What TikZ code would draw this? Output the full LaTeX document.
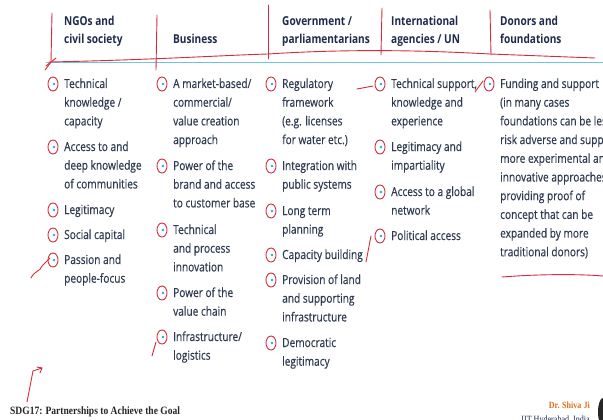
\documentclass[tikz,border=0pt]{standalone}
\usepackage{fontspec}
\setmainfont{Open Sans}[FakeStretch=0.82]
\newfontfamily\bodyfont{Open Sans}[FakeStretch=0.81,FakeBold=0.35]
\newfontfamily\sdgfont{Liberation Serif}[FakeStretch=0.85]
\usepackage{tikz}
\definecolor{navy}{HTML}{1F2B4C}
\definecolor{slate}{HTML}{2F3B50}
\definecolor{inkred}{HTML}{D62B3C}
\definecolor{rule}{HTML}{6EC3E0}
\definecolor{bulblue}{HTML}{2FA6D0}
\definecolor{orng}{HTML}{E2701E}
\tikzset{
  hdr/.style={anchor=base west, inner sep=0pt, text=navy,
    font=\fontsize{12.3}{18}\selectfont\bfseries},
  body/.style={anchor=base west, inner sep=0pt, text=slate,
    font=\bodyfont\fontsize{12.5}{18.7}\selectfont},
  pen/.style={inkred, line width=0.9pt, line cap=round, line join=round},
  bul/.style={bulblue}
}
\def\lines#1{\begin{tabular}[t]{@{}l@{}}#1\end{tabular}}
\def\entry(#1,#2)#3#4{%
  \fill[bul] (#1-10,#2-4) circle (1.3);
  \draw[pen] (#1-11,#2-4) ellipse (5 and 7);
  \node[body] (#3) at (#1,#2) {\lines{#4}};}

\begin{document}
\begin{tikzpicture}[x=1pt, y=-1pt]
			%%%%% START %%%%%
			\useasboundingbox[fill=white] (0,0) rectangle (603,420);
			\clip (0,0) rectangle (603,420);
			
			% headings
			\node[hdr] (ngo) at (64, 26) {\lines{NGOs and\\civil society}};
			\node[hdr] (biz) at (173, 44) {Business};
			\node[hdr] (gov) at (282, 26) {\lines{Government /\\parliamentarians}};
			\node[hdr] (intl) at (391, 26) {\lines{International\\agencies / UN}};
			\node[hdr] (don) at (500, 26) {\lines{Donors and\\foundations}};
			
			\draw[rule, line width=1.1pt] (46, 62.5) -- (603, 62.5);
			
			% NGOs and civil society
			\entry(64, 88){ngoA}{Technical\\knowledge /\\capacity}
			\entry(64, 151){ngoB}{Access to and\\deep knowledge\\of communities}
			\entry(64, 214){ngoC}{Legitimacy}
			\entry(64, 239){ngoD}{Social capital}
			\entry(64, 264){ngoE}{Passion and\\people-focus}
			
			% Business
			\entry(173, 88){bizA}{A market-based/\\commercial/\\value creation\\approach}
			\entry(173, 170){bizB}{Power of the\\brand and access\\to customer base}
			\entry(173, 234){bizC}{Technical\\and process\\innovation}
			\entry(173, 297){bizD}{Power of the\\value chain}
			\entry(173, 341){bizE}{Infrastructure/\\logistics}
			
			% Government / parliamentarians
			\entry(282, 88){govA}{Regulatory\\framework\\(e.g. licenses\\for water etc.)}
			\entry(282, 170){govB}{Integration with\\public systems}
			\entry(282, 215){govC}{Long term\\planning}
			\entry(282, 259){govD}{Capacity building}
			\entry(282, 284){govE}{Provision of land\\and supporting\\infrastructure}
			\entry(282, 347){govF}{Democratic\\legitimacy}
			
			% International agencies / UN
			\entry(391, 88){intlA}{Technical support,\\knowledge and\\experience}
			\entry(391, 151){intlB}{Legitimacy and\\impartiality}
			\entry(391, 196){intlC}{Access to a global\\network}
			\entry(391, 240){intlD}{Political access}
			
			% Donors and foundations
			\entry(500, 88){donA}{Funding and support\\(in many cases\\foundations can be less\\risk adverse and support\\more experimental and\\innovative approaches\\providing proof of\\concept that can be\\expanded by more\\traditional donors)}
			
			% pen strokes over the slide
			\draw[pen] (52, 13) -- (51, 62) -- (45, 70);
			\draw[pen] (46, 66) -- (56, 58);
			\draw[pen] (49, 62) .. controls (150, 60) and (230, 55) .. (268, 54)
			  .. controls (330, 50) and (400, 49) .. (490, 54) -- (595, 58);
			\draw[pen] (157, 15) -- (156, 70);
			\draw[pen] (268, 5) -- (268, 59);
			\draw[pen] (382, 8) -- (381, 55);
			\draw[pen] (490, 10) -- (491, 55);
			\draw[pen] (357, 89) -- (373, 86);
			\draw[pen] (475, 92) -- (483, 81);
			\draw[pen] (31, 278) .. controls (35, 270) and (40, 272) .. (42, 266) -- (50, 258);
			\draw[pen] (366, 262) -- (371, 236);
			\draw[pen] (152, 356) -- (156, 342);
			\draw[pen] (502, 277) .. controls (540, 274) and (580, 274) .. (603, 276);
			\draw[pen] (27, 402) -- (33, 371) -- (42, 368);
			\draw[pen] (37, 367) -- (42, 368) -- (40, 373);
			
			% footer
			\node[anchor=base west, inner sep=0pt, text=black!85, font=\sdgfont\fontsize{11.2}{13}\selectfont\bfseries] (sdg) at (10, 414) {SDG17: Partnerships to Achieve the Goal};
			\node[anchor=base east, inner sep=0pt, text=orng, font=\sdgfont\fontsize{9.5}{11}\selectfont\bfseries] (shiva) at (590, 408) {Dr. Shiva Ji};
			\node[anchor=base east, inner sep=0pt, text=navy, font=\sdgfont\fontsize{9.5}{11}\selectfont] (iith) at (590, 422) {IIT Hyderabad, India};
			\fill[black!85] (603, 412) ellipse (5 and 14);
			%%%%% END %%%%%
\end{tikzpicture}
\end{document}
